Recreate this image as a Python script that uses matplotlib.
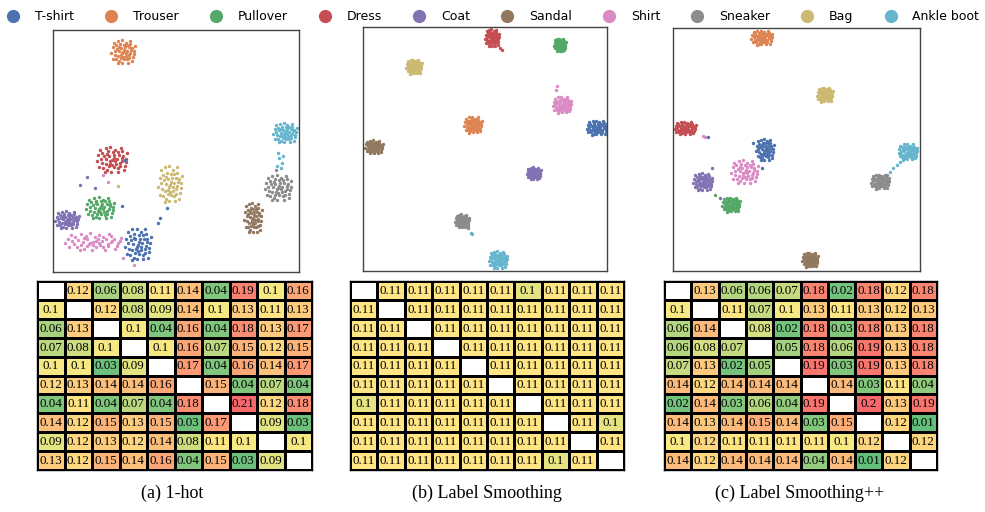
import numpy as np
import matplotlib
matplotlib.use("Agg")
import matplotlib.pyplot as plt
from matplotlib.colors import LinearSegmentedColormap, TwoSlopeNorm
from matplotlib.lines import Line2D

# ---------------- data ----------------
classes = ["T-shirt", "Trouser", "Pullover", "Dress", "Coat", "Sandal",
           "Shirt", "Sneaker", "Bag", "Ankle boot"]
class_colors = ["#4C72B0", "#DD8452", "#55A868", "#C44E52", "#8172B3",
                "#937860", "#DA8BC3", "#8C8C8C", "#CCB974", "#64B5CD"]

# cluster centres / spreads (axes units 0..1) read from the embeddings
a_cx = [0.345, 0.285, 0.191, 0.240, 0.057, 0.813, 0.163, 0.915, 0.476, 0.943]
a_cy = [0.112, 0.909, 0.264, 0.463, 0.215, 0.223, 0.124, 0.347, 0.360, 0.574]
a_sx = [0.055, 0.050, 0.060, 0.065, 0.050, 0.037, 0.120, 0.057, 0.050, 0.050]
a_sy = [0.075, 0.055, 0.050, 0.060, 0.040, 0.070, 0.040, 0.060, 0.085, 0.045]
a_extra = [(4, 0.138, 0.393), (4, 0.110, 0.360), (4, 0.171, 0.347),
           (0, 0.435, 0.223), (0, 0.427, 0.202), (0, 0.463, 0.264),
           (0, 0.280, 0.273), (0, 0.293, 0.463), (8, 0.264, 0.355),
           (6, 0.224, 0.372), (6, 0.203, 0.401), (6, 0.285, 0.058),
           (6, 0.330, 0.030), (9, 0.920, 0.470), (9, 0.930, 0.450),
           (9, 0.910, 0.440), (9, 0.935, 0.480), (9, 0.925, 0.430),
           (7, 0.905, 0.420), (9, 0.915, 0.490)]

b_cx = [0.959, 0.451, 0.807, 0.529, 0.700, 0.045, 0.816, 0.406, 0.209, 0.553]
b_cy = [0.586, 0.598, 0.926, 0.955, 0.400, 0.508, 0.680, 0.205, 0.836, 0.045]
b_sx = [0.045, 0.037, 0.025, 0.030, 0.030, 0.037, 0.040, 0.030, 0.033, 0.040]
b_sy = [0.033, 0.037, 0.028, 0.040, 0.028, 0.030, 0.037, 0.030, 0.033, 0.040]
b_extra = [(3, 0.570, 0.906), (3, 0.561, 0.914), (9, 0.447, 0.152),
           (9, 0.443, 0.156), (7, 0.430, 0.176), (6, 0.790, 0.740),
           (6, 0.795, 0.760)]

c_cx = [0.372, 0.360, 0.235, 0.049, 0.120, 0.555, 0.290, 0.838, 0.615, 0.951]
c_cy = [0.498, 0.959, 0.272, 0.588, 0.366, 0.045, 0.407, 0.366, 0.724, 0.490]
c_sx = [0.037, 0.045, 0.037, 0.045, 0.040, 0.033, 0.057, 0.040, 0.033, 0.040]
c_sy = [0.050, 0.033, 0.033, 0.030, 0.040, 0.033, 0.055, 0.033, 0.033, 0.037]
c_extra = [(9, 0.931, 0.465), (9, 0.919, 0.449), (9, 0.907, 0.436),
           (9, 0.891, 0.424), (9, 0.879, 0.407), (7, 0.866, 0.395),
           (6, 0.130, 0.551), (6, 0.121, 0.555), (0, 0.140, 0.553),
           (0, 0.324, 0.527), (0, 0.360, 0.424), (4, 0.158, 0.424),
           (2, 0.170, 0.313), (4, 0.190, 0.300)]

# shared cluster shape (unit offsets read from a typical cluster)
shape_dx = [0.0, 0.3, -0.2, 0.5, -0.4, 0.1, 0.7, -0.7, 0.2, -0.3, 0.6, -0.6,
            0.8, -0.8, 0.4, -0.1, 0.9, -0.95, 0.15, -0.35, 0.45, -0.15, 0.25,
            -0.5, 0.05, -0.25, 0.6, -0.55, 0.35, 0.75, -0.05, 0.55, -0.85,
            0.95, -0.4, 0.1, -0.1, 0.35, -0.65, 0.2, -0.3, 0.65, -0.2, 0.5,
            -0.75, 0.85, 0.0, -0.45]
shape_dy = [0.0, 0.1, 0.3, -0.2, -0.3, -0.5, 0.3, 0.1, 0.7, -0.7, 0.6, 0.5,
            -0.4, -0.5, -0.8, 0.9, 0.1, -0.1, 0.35, 0.05, 0.35, -0.25, -0.3,
            0.25, 0.55, 0.6, -0.05, -0.55, -0.55, -0.7, -0.8, 0.85, 0.35,
            0.45, 0.85, 0.15, -0.1, 0.55, -0.2, -0.1, 0.4, 0.15, -0.45,
            -0.45, 0.7, -0.15, -0.35, -0.85]

# similarity tables (None = diagonal)
N = None
table_a = [
    [N, 0.12, 0.06, 0.08, 0.11, 0.14, 0.04, 0.19, 0.1, 0.16],
    [0.1, N, 0.12, 0.08, 0.09, 0.14, 0.1, 0.13, 0.11, 0.13],
    [0.06, 0.13, N, 0.1, 0.04, 0.16, 0.04, 0.18, 0.13, 0.17],
    [0.07, 0.08, 0.1, N, 0.1, 0.16, 0.07, 0.15, 0.12, 0.15],
    [0.1, 0.1, 0.03, 0.09, N, 0.17, 0.04, 0.16, 0.14, 0.17],
    [0.12, 0.13, 0.14, 0.14, 0.16, N, 0.15, 0.04, 0.07, 0.04],
    [0.04, 0.11, 0.04, 0.07, 0.04, 0.18, N, 0.21, 0.12, 0.18],
    [0.14, 0.12, 0.15, 0.13, 0.15, 0.03, 0.17, N, 0.09, 0.03],
    [0.09, 0.12, 0.13, 0.12, 0.14, 0.08, 0.11, 0.1, N, 0.1],
    [0.13, 0.12, 0.15, 0.14, 0.16, 0.04, 0.15, 0.03, 0.09, N],
]
table_b = [
    [N, 0.11, 0.11, 0.11, 0.11, 0.11, 0.1, 0.11, 0.11, 0.11],
    [0.11, N, 0.11, 0.11, 0.11, 0.11, 0.11, 0.11, 0.11, 0.11],
    [0.11, 0.11, N, 0.11, 0.11, 0.11, 0.11, 0.11, 0.11, 0.11],
    [0.11, 0.11, 0.11, N, 0.11, 0.11, 0.11, 0.11, 0.11, 0.11],
    [0.11, 0.11, 0.11, 0.11, N, 0.11, 0.11, 0.11, 0.11, 0.11],
    [0.11, 0.11, 0.11, 0.11, 0.11, N, 0.11, 0.11, 0.11, 0.11],
    [0.1, 0.11, 0.11, 0.11, 0.11, 0.11, N, 0.11, 0.11, 0.11],
    [0.11, 0.11, 0.11, 0.11, 0.11, 0.11, 0.11, N, 0.11, 0.1],
    [0.11, 0.11, 0.11, 0.11, 0.11, 0.11, 0.11, 0.11, N, 0.11],
    [0.11, 0.11, 0.11, 0.11, 0.11, 0.11, 0.11, 0.1, 0.11, N],
]
table_c = [
    [N, 0.13, 0.06, 0.06, 0.07, 0.18, 0.02, 0.18, 0.12, 0.18],
    [0.1, N, 0.11, 0.07, 0.1, 0.13, 0.11, 0.13, 0.12, 0.13],
    [0.06, 0.14, N, 0.08, 0.02, 0.18, 0.03, 0.18, 0.13, 0.18],
    [0.06, 0.08, 0.07, N, 0.05, 0.18, 0.06, 0.19, 0.13, 0.18],
    [0.07, 0.13, 0.02, 0.05, N, 0.19, 0.03, 0.19, 0.13, 0.18],
    [0.14, 0.12, 0.14, 0.14, 0.14, N, 0.14, 0.03, 0.11, 0.04],
    [0.02, 0.14, 0.03, 0.06, 0.04, 0.19, N, 0.2, 0.13, 0.19],
    [0.14, 0.13, 0.14, 0.15, 0.14, 0.03, 0.15, N, 0.12, 0.01],
    [0.1, 0.12, 0.11, 0.11, 0.11, 0.11, 0.1, 0.12, N, 0.12],
    [0.14, 0.12, 0.14, 0.14, 0.14, 0.04, 0.14, 0.01, 0.12, N],
]
captions = ["(a) 1-hot", "(b) Label Smoothing", "(c) Label Smoothing++"]

# ---------------- figure ----------------
W, H = 985, 512
fig = plt.figure(figsize=(W / 100, H / 100), dpi=100)

def fx(px):
    return px / W

def fy(py):
    return 1 - py / H

scatter_boxes = [(53, 30, 299, 272), (363, 27, 607, 271), (673, 28, 920, 271)]
table_boxes = [(37, 281, 312, 470), (350, 281, 624, 470), (664, 281, 937, 470)]
caption_x = [172, 487, 800]

panels = [(a_cx, a_cy, a_sx, a_sy, a_extra),
          (b_cx, b_cy, b_sx, b_sy, b_extra),
          (c_cx, c_cy, c_sx, c_sy, c_extra)]

sdx = np.array(shape_dx)
sdy = np.array(shape_dy)
for (x0, y0, x1, y1), (cx, cy, sx, sy, extra) in zip(scatter_boxes, panels):
    ax = fig.add_axes([fx(x0), fy(y1), fx(x1 - x0), (y1 - y0) / H])
    for k in range(10):
        ax.scatter(cx[k] + sx[k] * sdx, cy[k] + sy[k] * sdy, s=6,
                   color=class_colors[k], linewidths=0)
    for k, x, y in extra:
        ax.scatter([x], [y], s=6, color=class_colors[k], linewidths=0)
    ax.set_xlim(0, 1)
    ax.set_ylim(0, 1)
    ax.set_xticks([])
    ax.set_yticks([])
    for sp in ax.spines.values():
        sp.set_color("#444444")
        sp.set_linewidth(1.0)

cmap = LinearSegmentedColormap.from_list("excel", ["#63BE7B", "#FFEB84", "#F8696B"])
norms = [TwoSlopeNorm(vmin=0.025, vcenter=0.105, vmax=0.21),
         TwoSlopeNorm(vmin=0.07, vcenter=0.106, vmax=0.20),
         TwoSlopeNorm(vmin=0.01, vcenter=0.105, vmax=0.20)]

for (x0, y0, x1, y1), tab, norm in zip(table_boxes, [table_a, table_b, table_c], norms):
    ax = fig.add_axes([fx(x0), fy(y1), fx(x1 - x0), (y1 - y0) / H])
    vals = np.array([[np.nan if v is None else v for v in row] for row in tab], dtype=float)
    rgba = cmap(norm(np.nan_to_num(vals, nan=0.1)))
    rgba[np.isnan(vals)] = (1, 1, 1, 1)
    ax.pcolormesh(np.arange(11), np.arange(11), rgba, edgecolors="black",
                  linewidth=0.75)
    for i in range(10):
        for j in range(10):
            v = tab[i][j]
            if v is None:
                continue
            ax.text(j + 0.5, i + 0.52, f"{v:g}", ha="center", va="center",
                    fontsize=9.4, family="Liberation Serif", color="black")
    ax.set_xlim(0, 10)
    ax.set_ylim(10, 0)
    ax.set_xticks([])
    ax.set_yticks([])
    for sp in ax.spines.values():
        sp.set_color("black")
        sp.set_linewidth(1.0)

for cxp, txt in zip(caption_x, captions):
    fig.text(fx(cxp), fy(493), txt, ha="center", va="center", fontsize=13,
             family="Liberation Serif")

handles = [Line2D([], [], marker="o", linestyle="none", markersize=8.5,
                  markerfacecolor=c, markeredgecolor=c) for c in class_colors]
fig.legend(handles, classes, loc="upper left",
           bbox_to_anchor=(6.75 / W, 1.0 - 10.0 / H),
           ncol=10, frameon=False, fontsize=9, handlelength=1.0,
           handletextpad=1.26, columnspacing=2.46, borderaxespad=0.0,
           borderpad=0.0)

fig.savefig("out.png", dpi=100)
